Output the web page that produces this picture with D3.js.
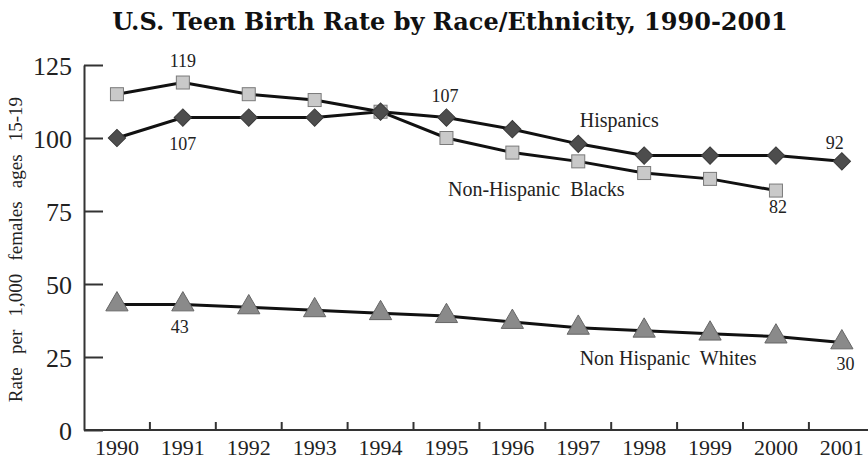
<!DOCTYPE html>
<html>
<head>
<meta charset="utf-8">
<script src="https://cdn.jsdelivr.net/npm/d3@7"></script>
<style>
  html, body { margin: 0; padding: 0; background: #fff; }
  svg { display: block; }
  text { font-family: "Liberation Serif", "Times New Roman", serif; fill: #222; }
</style>
</head>
<body>
<svg id="chart" width="868" height="459"></svg>
<script>
// Teen births per 1,000 females aged 15-19
const years = [1990, 1991, 1992, 1993, 1994, 1995, 1996, 1997, 1998, 1999, 2000, 2001];
const hispanics = [100, 107, 107, 107, 109, 107, 103, 98, 94, 94, 94, 92];
const blacks = [115, 119, 115, 113, 109, 100, 95, 92, 88, 86, 82];
const whites = [43, 43, 42, 41, 40, 39, 37, 35, 34, 33, 32, 30];
const yTicks = [0, 25, 50, 75, 100, 125];

// Value labels: [series, year index, text, dx, dy]
const valueLabels = [
  ["blacks", 1, "119", 0, -15.5],
  ["hispanics", 1, "107", 0, 32.4],
  ["hispanics", 5, "107", -1.5, -15.6],
  ["hispanics", 11, "92", -7, -12.4],
  ["blacks", 10, "82", 2, 22],
  ["whites", 1, "43", -3, 28.6],
  ["whites", 11, "30", 3.6, 27.6]
];
const seriesNames = [
  ["hispanics", 7, "Hispanics", 41, -16.8],
  ["blacks", 6, "Non-Hispanic  Blacks", 24, 43.4],
  ["whites", 9, "Non Hispanic  Whites", -42, 31.4]
];

const svg = d3.select("#chart");
const mLeft = 84, mBottom = 430, mTop = 65;
const band = 65.9;

const x = d3.scaleBand().domain(years).range([mLeft, mLeft + band * years.length]).padding(0);
const y = d3.scaleLinear().domain([0, 125]).range([mBottom, mTop]);
const cx = d => x(d) + x.bandwidth() / 2;

// Title
svg.append("text")
  .attr("x", 450).attr("y", 30)
  .attr("text-anchor", "middle")
  .style("font-family", "'DejaVu Serif', serif")
  .style("font-weight", "bold")
  .style("font-size", "24px")
  .style("fill", "#111")
  .text("U.S. Teen Birth Rate by Race/Ethnicity, 1990-2001");

// Y axis
const yAxis = svg.append("g")
  .attr("transform", `translate(${mLeft},0)`)
  .call(d3.axisLeft(y).tickValues(yTicks).tickSize(-19).tickSizeOuter(0).tickPadding(12));
yAxis.select(".domain").attr("stroke", "#333").attr("stroke-width", 2);
yAxis.selectAll(".tick line").attr("stroke", "#333").attr("stroke-width", 2);
yAxis.selectAll(".tick text")
  .style("font-family", "'Liberation Serif', serif")
  .style("font-size", "26px")
  .attr("fill", "#222")
  .attr("dy", "0.36em");

// Y axis title
svg.append("text")
  .attr("transform", `translate(22,${(mTop + mBottom) / 2 + 2}) rotate(-90)`)
  .attr("text-anchor", "middle")
  .style("font-size", "19px")
  .style("word-spacing", "8.5px")
  .text("Rate per 1,000 females ages 15-19");

// X axis: baseline, ticks at band boundaries, labels at band centres
const xAxis = svg.append("g")
  .attr("transform", `translate(0,${mBottom})`)
  .call(d3.axisBottom(x).tickSize(0).tickPadding(9.5).tickFormat(d3.format("d")));
xAxis.select(".domain").remove();
xAxis.selectAll(".tick text")
  .style("font-family", "'Liberation Serif', serif")
  .style("font-size", "22px")
  .attr("fill", "#222");
svg.append("line")
  .attr("x1", mLeft).attr("x2", 868)
  .attr("y1", mBottom).attr("y2", mBottom)
  .attr("stroke", "#333").attr("stroke-width", 2);
svg.append("g").selectAll("line")
  .data(years.slice(1))
  .join("line")
  .attr("x1", d => x(d)).attr("x2", d => x(d))
  .attr("y1", mBottom).attr("y2", mBottom - 8)
  .attr("stroke", "#333").attr("stroke-width", 2);

const data = { hispanics, blacks, whites };
const line = d3.line().x((d, i) => cx(years[i])).y(d => y(d));

// Lines
[whites, blacks, hispanics].forEach(vals => {
  svg.append("path")
    .datum(vals)
    .attr("d", line)
    .attr("fill", "none")
    .attr("stroke", "#111")
    .attr("stroke-width", 3);
});

// Markers
svg.append("g").selectAll("path")
  .data(whites)
  .join("path")
  .attr("transform", (d, i) => `translate(${cx(years[i])},${y(d)})`)
  .attr("d", d3.symbol(d3.symbolTriangle, 215))
  .attr("fill", "#8a8a8a").attr("stroke", "#666").attr("stroke-width", 1);

svg.append("g").selectAll("rect")
  .data(blacks)
  .join("rect")
  .attr("x", (d, i) => cx(years[i]) - 6.5)
  .attr("y", d => y(d) - 6.5)
  .attr("width", 13).attr("height", 13)
  .attr("fill", "#c9c9c9").attr("stroke", "#7a7a7a").attr("stroke-width", 1);

svg.append("g").selectAll("path")
  .data(hispanics)
  .join("path")
  .attr("transform", (d, i) => `translate(${cx(years[i])},${y(d)}) rotate(45)`)
  .attr("d", d3.symbol(d3.symbolSquare, 150))
  .attr("fill", "#4d4d4d").attr("stroke", "#3a3a3a").attr("stroke-width", 1);

// Value labels
svg.append("g").selectAll("text")
  .data(valueLabels)
  .join("text")
  .attr("x", d => cx(years[d[1]]) + d[3])
  .attr("y", d => y(data[d[0]][d[1]]) + d[4])
  .attr("text-anchor", "middle")
  .style("font-size", "18px")
  .text(d => d[2]);

// Series names
svg.append("g").selectAll("text")
  .data(seriesNames)
  .join("text")
  .attr("x", d => cx(years[d[1]]) + d[3])
  .attr("y", d => y(data[d[0]][d[1]]) + d[4])
  .attr("text-anchor", "middle")
  .attr("xml:space", "preserve")
  .style("white-space", "pre")
  .style("font-size", "20px")
  .text(d => d[2]);
</script>
</body>
</html>
